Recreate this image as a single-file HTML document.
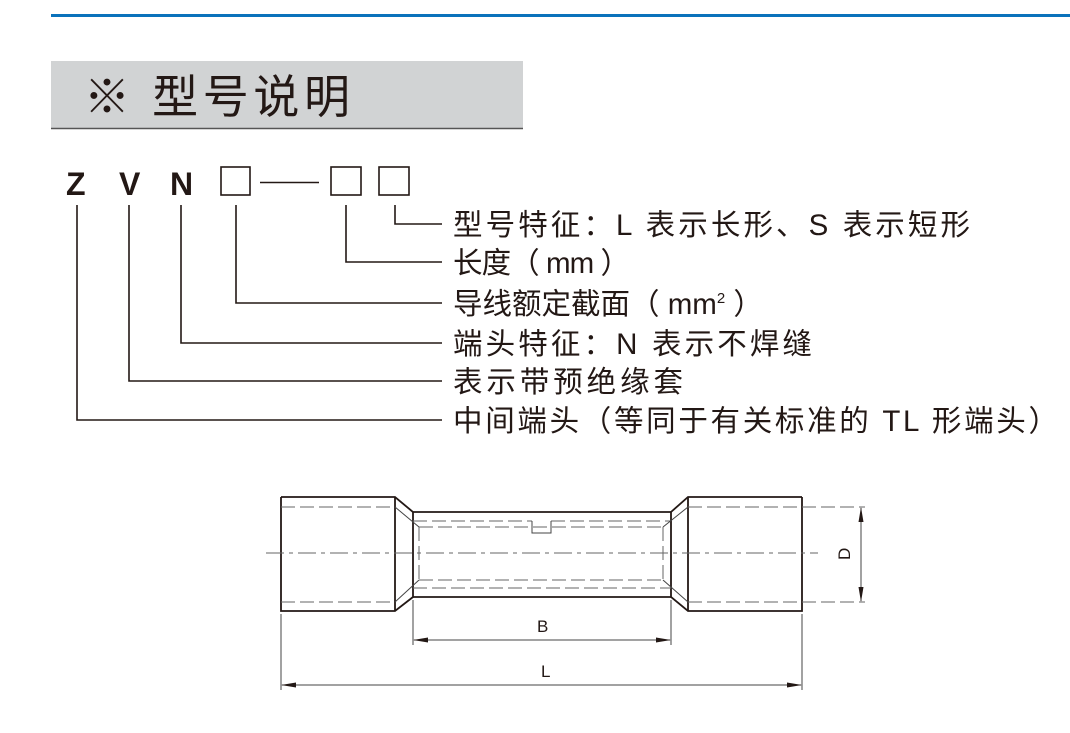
<!DOCTYPE html>
<html><head><meta charset="utf-8"><style>
body{margin:0;background:#fff;}
svg{display:block;}
text{font-family:"Liberation Sans","Noto Sans CJK SC",sans-serif;fill:#231815;}
</style></head><body>
<svg width="1070" height="733" viewBox="0 0 1070 733" xmlns="http://www.w3.org/2000/svg">
<line x1="51" y1="15.5" x2="1070" y2="15.5" stroke="#0a72bb" stroke-width="3"/>
<rect x="51" y="61" width="472" height="68" fill="#d1d3d4"/>
<line x1="51" y1="128.5" x2="523" y2="128.5" stroke="#555" stroke-width="1.5"/>
<text x="84" y="113" font-size="46" textLength="266" lengthAdjust="spacing">※ 型号说明</text>

<g font-weight="bold" font-size="32">
<text x="66" y="195">Z</text><text x="119" y="195">V</text><text x="170" y="195">N</text>
</g>
<g fill="none" stroke="#231815" stroke-width="1.6">
<rect x="221" y="167" width="29" height="28"/>
<rect x="331" y="167" width="30" height="28"/>
<rect x="379" y="167" width="30" height="28"/>
<line x1="260" y1="182.5" x2="319" y2="182.5"/>
<polyline points="395,205 395,224 442,224"/>
<polyline points="346,205 346,262 442,262"/>
<polyline points="236,205 236,303 442,303"/>
<polyline points="181,205 181,343 442,343"/>
<polyline points="129,205 129,381 442,381"/>
<polyline points="77,205 77,420 442,420"/>
</g>
<g font-size="29.5">
<text x="453" y="235" textLength="517" lengthAdjust="spacing">型号特征：L 表示长形、S 表示短形</text>
<text x="453" y="273" textLength="177" lengthAdjust="spacing">长度（ mm ）</text>
<text x="453" y="314">导线额定截面（ mm<tspan font-size="15" dy="-11">2</tspan><tspan dy="11"> ）</tspan></text>
<text x="453" y="354" textLength="359" lengthAdjust="spacing">端头特征：N 表示不焊缝</text>
<text x="453" y="392" textLength="230" lengthAdjust="spacing">表示带预绝缘套</text>
<text x="453" y="431" textLength="605" lengthAdjust="spacing">中间端头（等同于有关标准的 TL 形端头）</text>
</g>

<g fill="none" stroke="#231815">
<g stroke-width="1.8">
<polyline points="281,497 395,497 413,512 413,597 395,611 281,611 281,497"/>
<line x1="395" y1="497" x2="395" y2="611"/>
<polyline points="802,497 688,497 671,512 671,597 688,611 802,611 802,497"/>
<line x1="688" y1="497" x2="688" y2="611"/>
<line x1="413" y1="512" x2="671" y2="512"/>
<line x1="413" y1="597" x2="671" y2="597"/>
</g>
<g stroke="#666" stroke-width="1" stroke-dasharray="14,5">
<line x1="266" y1="553" x2="818" y2="553" stroke-dasharray="18,5,4,5"/>
<line x1="281" y1="507" x2="395" y2="507"/>
<line x1="281" y1="602" x2="395" y2="602"/>
<line x1="688" y1="507" x2="865" y2="507"/>
<line x1="688" y1="602" x2="865" y2="602"/>
<line x1="413" y1="521" x2="532" y2="521"/>
<line x1="551" y1="521" x2="671" y2="521"/>
<line x1="419" y1="527" x2="663" y2="527"/>
<line x1="419" y1="580" x2="663" y2="580"/>
<line x1="413" y1="588" x2="671" y2="588"/>
<line x1="419" y1="527" x2="419" y2="580"/>
<line x1="663" y1="527" x2="663" y2="580"/>
</g>
<g stroke="#444" stroke-width="1">
<line x1="395" y1="507" x2="419" y2="527"/>
<line x1="395" y1="602" x2="419" y2="580"/>
<line x1="688" y1="507" x2="663" y2="527"/>
<line x1="688" y1="602" x2="663" y2="580"/>
<polyline points="532,521 532,533 551,533 551,521"/>
<line x1="413" y1="600" x2="413" y2="645"/>
<line x1="671" y1="600" x2="671" y2="645"/>
<line x1="281" y1="614" x2="281" y2="690"/>
<line x1="802" y1="614" x2="802" y2="690"/>
<line x1="414" y1="640" x2="670" y2="640"/>
<line x1="282" y1="685" x2="801" y2="685"/>
<line x1="861" y1="508" x2="861" y2="601"/>
</g>
</g>
<g fill="#231815">
<polygon points="413,640 428,637.5 428,642.5"/>
<polygon points="671,640 656,637.5 656,642.5"/>
<polygon points="281,685 296,682.5 296,687.5"/>
<polygon points="802,685 787,682.5 787,687.5"/>
<polygon points="861,507 858.5,522 863.5,522"/>
<polygon points="861,602 858.5,587 863.5,587"/>
</g>
<text x="537" y="632" font-size="17">B</text>
<text x="541" y="677" font-size="17">L</text>
<text x="0" y="0" font-size="17" transform="translate(850,560) rotate(-90)">D</text>
</svg>
</body></html>
